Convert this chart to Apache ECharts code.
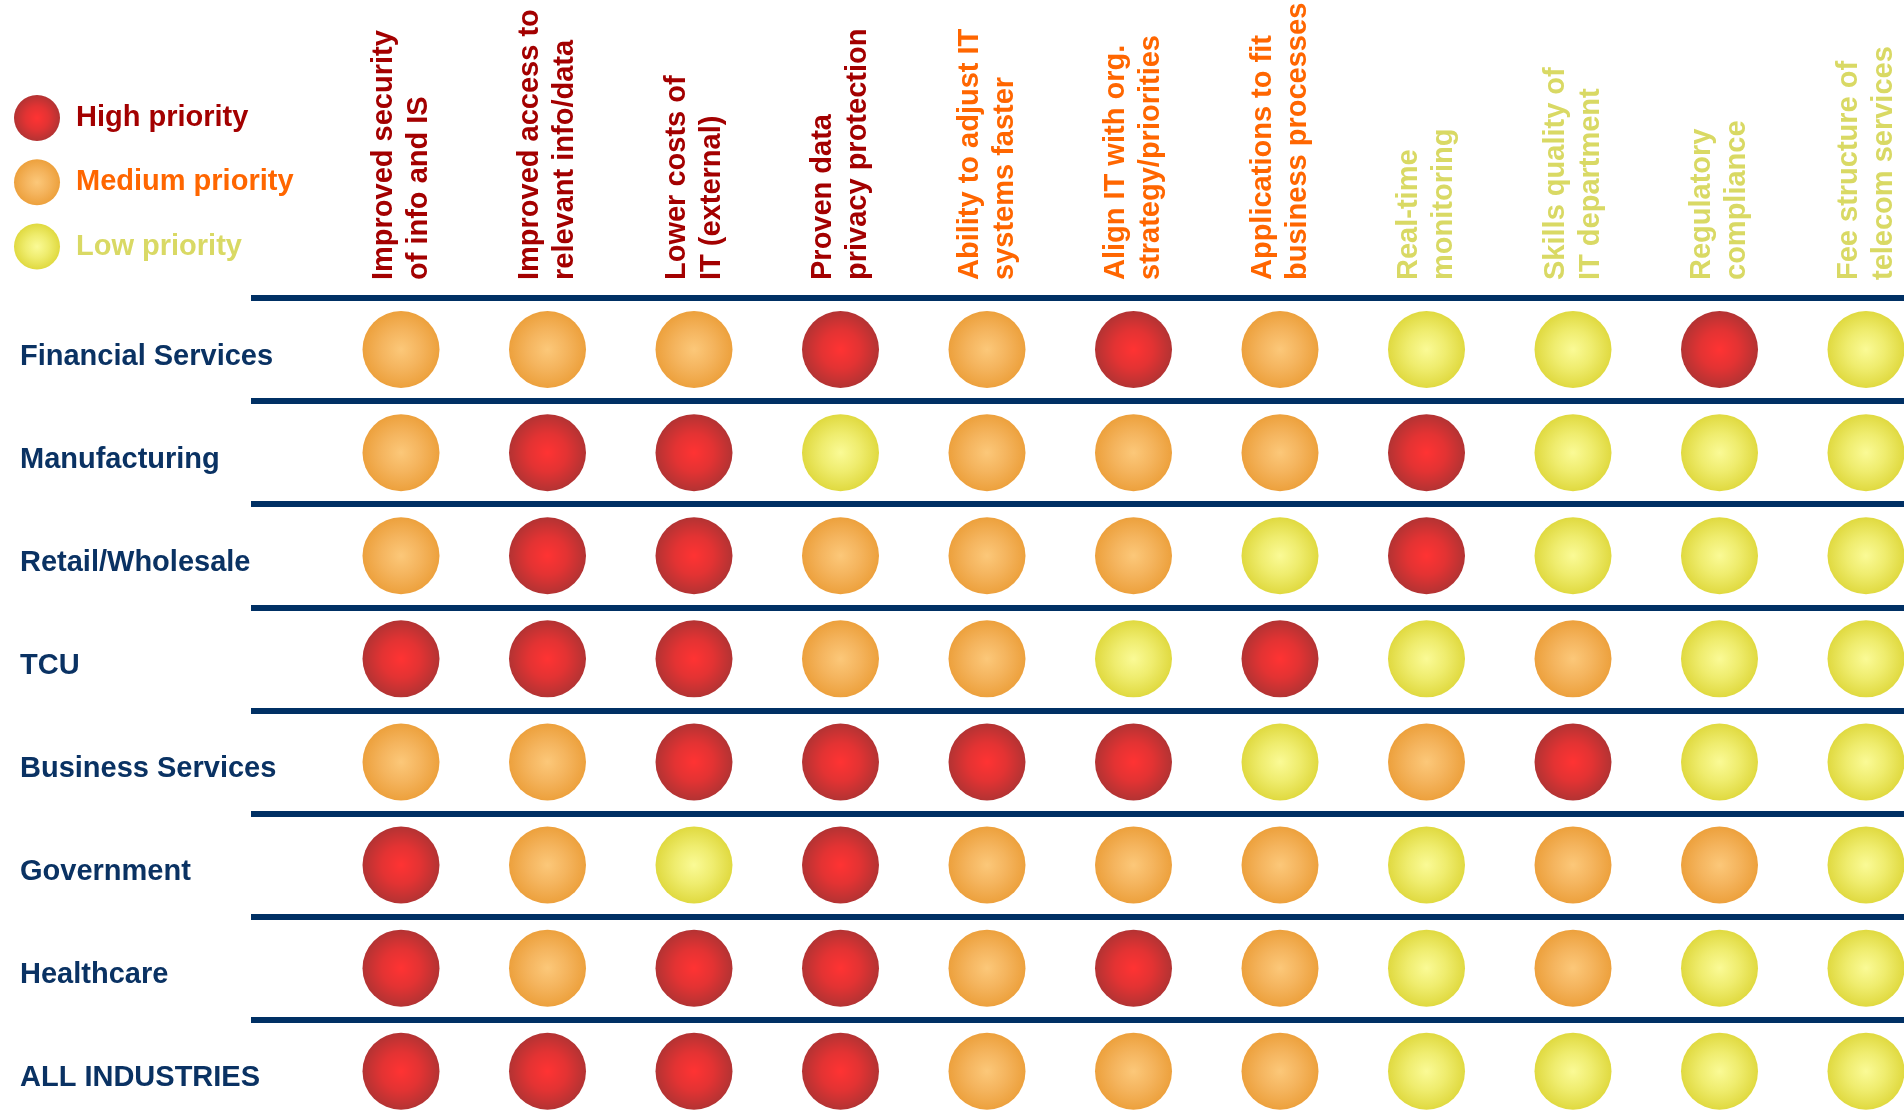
<!DOCTYPE html>
<html>
<head>
<meta charset="utf-8">
<script src="https://cdn.jsdelivr.net/npm/echarts@6/dist/echarts.min.js"></script>
<style>
html,body{margin:0;padding:0;background:#fff;}
#chart{width:1904px;height:1117px;}
</style>
</head>
<body>
<div id="chart"></div>
<script>
// ---- data ----
const industries = ['Financial Services','Manufacturing','Retail/Wholesale','TCU','Business Services','Government','Healthcare','ALL INDUSTRIES'];
const drivers = [
  'Improved security\nof info and IS',
  'Improved access to\nrelevant info/data',
  'Lower costs of\nIT (external)',
  'Proven data\nprivacy protection',
  'Ability to adjust IT\nsystems faster',
  'Align IT with org.\nstrategy/priorities',
  'Applications to fit\nbusiness processes',
  'Real-time\nmonitoring',
  'Skills quality of\nIT department',
  'Regulatory\ncompliance',
  'Fee structure of\ntelecom services'
];
const driverGroup = ['H','H','H','H','M','M','M','L','L','L','L'];
const levelCodes = ['H','M','L'];
const levelNames = ['High priority','Medium priority','Low priority'];

const financialServices = ['M','M','M','H','M','H','M','L','L','H','L'];
const manufacturing     = ['M','H','H','L','M','M','M','H','L','L','L'];
const retailWholesale   = ['M','H','H','M','M','M','L','H','L','L','L'];
const tcu               = ['H','H','H','M','M','L','H','L','M','L','L'];
const businessServices  = ['M','M','H','H','H','H','L','M','H','L','L'];
const government        = ['H','M','L','H','M','M','M','L','M','M','L'];
const healthcare        = ['H','M','H','H','M','H','M','L','M','L','L'];
const allIndustries     = ['H','H','H','H','M','M','M','L','L','L','L'];
const priorityRows = [financialServices, manufacturing, retailWholesale, tcu, businessServices, government, healthcare, allIndustries];

// ---- styles ----
const textColor = {H:'#a30000', M:'#ff6600', L:'#d9d964'};
const sphere = {
  H:['#ff0000','#dc0000','#a00000'],
  M:['#fbba58','#f2a236','#e8890c'],
  L:['#f9f97c','#ebe84a','#d8d010']
};
function grad(code){
  return {type:'radial', x:0.5, y:0.5, r:0.5,
    colorStops:[{offset:0,color:sphere[code][0]},{offset:0.5,color:sphere[code][1]},{offset:1,color:sphere[code][2]}]};
}

const colStart = 401, colStep = 146.5, gridLeft = 251, gridRight = 1904;
const rowTop = 298, rowH = 103.1;

const series = levelCodes.map((code, li) => {
  const data = [];
  priorityRows.forEach((row, r) => {
    row.forEach((v, c) => { if (v === code) data.push([c, r]); });
  });
  return {
    name: levelNames[li], type: 'scatter', xAxisIndex: 0, yAxisIndex: 0,
    symbol: 'circle', symbolSize: 77, data: data, clip: false,
    itemStyle: {color: grad(code)},
    emphasis: {disabled: true}, animation: false
  };
});

const chart = echarts.init(document.getElementById('chart'), null, {renderer:'canvas'});
const font = 'Liberation Sans, Arial, sans-serif';
chart.setOption({
  animation: false,
  textStyle: {fontFamily: font},
  legend: {
    orient: 'vertical', left: 14, top: 95, padding: 0, itemWidth: 46, itemHeight: 46, itemGap: 18.3,
    icon: 'circle', selectedMode: false,
    textStyle: {fontSize: 29, fontWeight: 'bold', fontFamily: font, padding: [0, 0, 0, 11]},
    data: levelNames.map((n, i) => ({name: n, textStyle: {color: textColor[levelCodes[i]]}}))
  },
  grid: [
    {left: gridLeft, right: 0, top: rowTop, height: rowH * industries.length, outerBoundsMode: 'none', containLabel: false},
    {left: colStart - colStep / 2, width: colStep * drivers.length, top: rowTop, height: 10, outerBoundsMode: 'none', containLabel: false}
  ],
  xAxis: [
    {type: 'value', gridIndex: 0, show: false,
     min: (gridLeft - colStart) / colStep, max: (gridRight - colStart) / colStep},
    {type: 'category', gridIndex: 1, position: 'top', data: drivers, boundaryGap: true,
     axisLine: {show: false}, axisTick: {show: false}, splitLine: {show: false},
     axisLabel: {interval: 0, rotate: 90, margin: 18, fontSize: 29, fontWeight: 'bold',
       lineHeight: 35, fontFamily: font,
       color: function (v, i) { return textColor[driverGroup[i]]; }}}
  ],
  yAxis: [
    {type: 'category', gridIndex: 0, inverse: true, data: industries, boundaryGap: true,
     axisLine: {show: false}, axisTick: {show: false},
     splitLine: {show: true, interval: 0, lineStyle: {color: '#003064', width: 6}},
     axisLabel: {interval: 0, align: 'left', margin: gridLeft - 20,
       formatter: function (v) { return '{a|' + v + '}'; },
       rich: {a: {fontSize: 29, fontWeight: 'bold', color: '#0a3263', fontFamily: font, padding: [14, 0, 0, 0]}}}},
    {type: 'value', gridIndex: 1, show: false}
  ],
  series: series
});
</script>
</body>
</html>
